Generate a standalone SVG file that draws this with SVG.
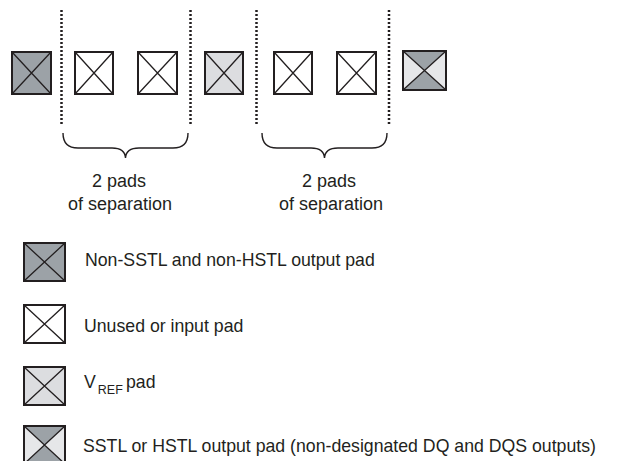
<svg xmlns="http://www.w3.org/2000/svg" width="626" height="461" viewBox="0 0 626 461">
<style>
.box{stroke:#231f20;stroke-width:2;}
.x{stroke:#231f20;stroke-width:1.3;fill:none;}
.dark{fill:#9ca2a7;}
.light{fill:#dcdde0;}
.pale{fill:#e6e7e9;}
.white{fill:#ffffff;}
.dot{stroke:#231f20;stroke-width:2.5;stroke-dasharray:2 2;fill:none;}
.brace{stroke:#231f20;stroke-width:1.4;fill:none;}
text{font-family:"Liberation Sans",Arial,sans-serif;fill:#231f20;}
.lbl{font-size:18px;text-anchor:middle;}
.leg{font-size:17.7px;}
.sub{font-size:12.5px;}
</style>
<rect width="626" height="461" fill="#ffffff"/>
<g id="connectors">
<line class="dot" x1="61.5" y1="10" x2="61.5" y2="126"/>
<line class="dot" x1="190.5" y1="10" x2="190.5" y2="126"/>
<line class="dot" x1="256.5" y1="10" x2="256.5" y2="126"/>
<line class="dot" x1="389" y1="10" x2="389" y2="126"/>
<path class="brace" d="M63,133 Q63,148 78,148 L112,148 Q125,148 125.5,158 Q126,148 139,148 L173,148 Q188,148 188,133"/>
<path class="brace" d="M262,133 Q262,148 277,148 L311,148 Q324,148 324.5,158 Q325,148 338,148 L372,148 Q387,148 387,133"/>
</g>
<g id="pad1"><rect class="box dark" x="12" y="52" width="39" height="42"/><path class="x" d="M12,52 L51,94 M51,52 L12,94"/></g>
<g id="pad2"><rect class="box white" x="75" y="52" width="38" height="42"/><path class="x" d="M75,52 L113,94 M113,52 L75,94"/></g>
<g id="pad3"><rect class="box white" x="138" y="52" width="39" height="42"/><path class="x" d="M138,52 L177,94 M177,52 L138,94"/></g>
<g id="pad4"><rect class="box light" x="205" y="52" width="38" height="42"/><path class="x" d="M205,52 L243,94 M243,52 L205,94"/></g>
<g id="pad5"><rect class="box white" x="274" y="52" width="38" height="42"/><path class="x" d="M274,52 L312,94 M312,52 L274,94"/></g>
<g id="pad6"><rect class="box white" x="337" y="52" width="39" height="42"/><path class="x" d="M337,52 L376,94 M376,52 L337,94"/></g>
<g id="pad7"><rect class="pale" x="403" y="51" width="43" height="39"/><polygon class="dark" points="403,51 446,51 424.5,70.5"/><polygon class="dark" points="403,90 446,90 424.5,70.5"/><rect class="box" fill="none" x="403" y="51" width="43" height="39"/><path class="x" d="M403,51 L446,90 M446,51 L403,90"/></g>
<g id="label1"><text class="lbl" x="119" y="187">2 pads</text><text class="lbl" x="120" y="210">of separation</text></g>
<g id="label2"><text class="lbl" x="329" y="187">2 pads</text><text class="lbl" x="331" y="210">of separation</text></g>
<g id="legend1"><rect class="box dark" x="24" y="243" width="41" height="38"/><path class="x" d="M24,243 L65,281 M65,243 L24,281"/><text class="leg" x="85" y="266">Non-SSTL and non-HSTL output pad</text></g>
<g id="legend2"><rect class="box white" x="24" y="305" width="41" height="38"/><path class="x" d="M24,305 L65,343 M65,305 L24,343"/><text class="leg" x="84" y="332">Unused or input pad</text></g>
<g id="legend3"><rect class="box light" x="24" y="367" width="41" height="38"/><path class="x" d="M24,367 L65,405 M65,367 L24,405"/><text class="leg" x="84" y="388">V<tspan class="sub" dx="2" dy="6">REF</tspan><tspan dx="0" dy="-6" x="126">pad</tspan></text></g>
<g id="legend4"><rect class="pale" x="24" y="426" width="41" height="38"/><polygon class="dark" points="24,426 65,426 44.5,445"/><polygon class="dark" points="24,464 65,464 44.5,445"/><rect class="box" fill="none" x="24" y="426" width="41" height="38"/><path class="x" d="M24,426 L65,464 M65,426 L24,464"/><text class="leg" x="83" y="452">SSTL or HSTL output pad (non-designated DQ and DQS outputs)</text></g>
</svg>
